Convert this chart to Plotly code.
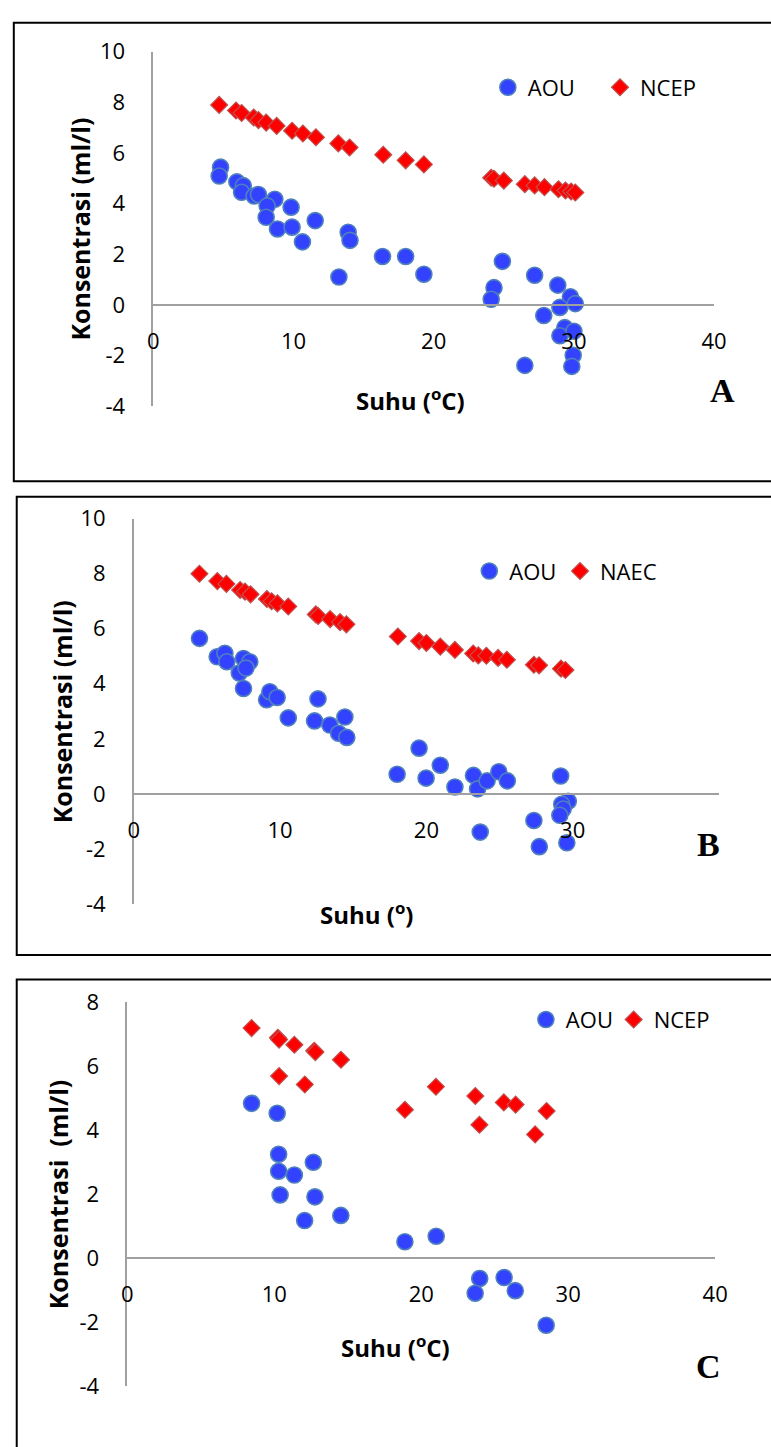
import plotly.graph_objects as go

# ---------------- data ----------------
# Panel A
a_aou_t = [4.8, 4.7, 5.96, 6.42, 6.3, 7.19, 7.5, 8.67, 8.12, 8.05, 8.86, 9.83, 9.9, 10.64, 11.55,
           13.9, 14.03, 13.24, 16.35, 18.0, 19.3, 24.9, 24.3, 24.1, 27.2, 28.85, 29.75, 30.1,
           29.0, 27.85, 29.35, 29.0, 30.0, 29.95, 29.85, 26.5]
a_aou_v = [5.44, 5.09, 4.86, 4.71, 4.45, 4.3, 4.36, 4.17, 3.91, 3.46, 3.0, 3.86, 3.07, 2.49, 3.33,
           2.87, 2.55, 1.1, 1.91, 1.91, 1.21, 1.72, 0.68, 0.22, 1.17, 0.78, 0.32, 0.05,
           -0.1, -0.42, -0.9, -1.22, -1.04, -1.99, -2.43, -2.39]
a_ncep_t = [4.7, 5.9, 6.3, 7.16, 7.5, 8.05, 8.8, 9.9, 10.67, 11.6, 13.2, 14.0, 16.4, 18.0, 19.3,
            24.1, 24.3, 25.0, 26.5, 27.2, 27.9, 28.9, 29.4, 29.8, 30.1]
a_ncep_v = [7.9, 7.68, 7.58, 7.4, 7.3, 7.2, 7.07, 6.88, 6.77, 6.62, 6.38, 6.22, 5.93, 5.71, 5.55,
            5.02, 4.98, 4.91, 4.77, 4.72, 4.65, 4.57, 4.52, 4.48, 4.44]

# Panel B
b_aou_t = [4.49, 5.7, 6.23, 6.36, 7.21, 7.5, 7.93, 7.67, 7.5, 9.08, 9.3, 9.8, 10.56, 12.36, 12.59,
           13.4, 14.0, 14.43, 14.56, 18.0, 19.5, 19.98, 20.95, 21.95, 23.22, 23.5, 24.15, 24.95,
           25.53, 29.18, 29.7, 29.25, 29.35, 29.12, 27.35, 23.68, 27.72, 29.6]
b_aou_v = [5.65, 4.98, 5.11, 4.8, 4.39, 4.92, 4.8, 4.57, 3.83, 3.42, 3.71, 3.5, 2.76, 2.65, 3.45,
           2.5, 2.2, 2.79, 2.05, 0.71, 1.66, 0.57, 1.04, 0.25, 0.67, 0.18, 0.47, 0.8,
           0.47, 0.65, -0.27, -0.38, -0.55, -0.78, -0.97, -1.39, -1.92, -1.78]
b_naec_t = [4.49, 5.71, 6.33, 7.27, 7.6, 7.98, 9.1, 9.42, 9.82, 10.56, 12.44, 12.6, 13.42, 14.1,
            14.53, 18.05, 19.5, 20.0, 20.95, 21.95, 23.2, 23.55, 24.1, 24.9, 25.5, 27.35, 27.7,
            29.2, 29.5]
b_naec_v = [8.0, 7.73, 7.63, 7.41, 7.35, 7.25, 7.08, 7.0, 6.92, 6.81, 6.52, 6.46, 6.35, 6.24,
            6.16, 5.72, 5.55, 5.48, 5.35, 5.23, 5.1, 5.03, 5.02, 4.94, 4.87, 4.69, 4.67,
            4.55, 4.5]

# Panel C
c_aou_t = [8.46, 10.2, 10.3, 10.3, 11.37, 12.66, 10.4, 12.77, 12.07, 14.53, 18.89, 21.02,
           23.98, 23.67, 25.64, 26.4, 28.5]
c_aou_v = [4.83, 4.52, 3.24, 2.71, 2.59, 2.99, 1.97, 1.91, 1.17, 1.33, 0.51, 0.68,
           -0.64, -1.1, -0.61, -1.02, -2.1]
c_ncep_t = [8.46, 10.25, 10.33, 11.37, 12.72, 12.8, 14.54, 10.33, 12.08, 18.89, 21.0, 23.68,
            23.96, 25.62, 26.42, 27.75, 28.53]
c_ncep_v = [7.18, 6.88, 6.82, 6.66, 6.47, 6.43, 6.19, 5.68, 5.42, 4.63, 5.35, 5.06,
            4.16, 4.86, 4.79, 3.86, 4.59]

x_ticks_ab = [0, 10, 20, 30, 40]
x_ticks_b = [0, 10, 20, 30]
y_ticks_ab = [-4, -2, 0, 2, 4, 6, 8, 10]
y_ticks_c = [-4, -2, 0, 2, 4, 6, 8]
y_labels_ab = ["-4", "-2", "0", "2", "4", "6", "8", "10"]
y_labels_c = ["-4", "-2", "0", "2", "4", "6", "8"]

# ---------------- layout helpers ----------------
W, H = 771, 1447
def px(x):
    return x / W
def py(y):
    return 1 - y / H

BLUE = "#3342ff"
BLUE_LINE = "#4f81bd"
RED = "#ff0000"
RED_LINE = "#c0504d"
AXIS_GRAY = "#a0a0a0"
FONT = "Open Sans"

fig = go.Figure()

def add_series(t, v, name, sym, xa, ya, leg):
    if sym == "circle":
        marker = dict(symbol="circle", size=16, color=BLUE, line=dict(color=BLUE_LINE, width=1.6))
    else:
        marker = dict(symbol="diamond", size=13, color=RED, line=dict(color=RED_LINE, width=1.2))
    fig.add_trace(go.Scatter(x=t, y=v, mode="markers", name=name, marker=marker,
                             xaxis=xa, yaxis=ya, legend=leg, cliponaxis=False))

add_series(a_aou_t, a_aou_v, "AOU", "circle", "x", "y", "legend")
add_series(a_ncep_t, a_ncep_v, "NCEP", "diamond", "x", "y", "legend2")
add_series(b_aou_t, b_aou_v, "AOU", "circle", "x2", "y2", "legend3")
add_series(b_naec_t, b_naec_v, "NAEC", "diamond", "x2", "y2", "legend4")
add_series(c_aou_t, c_aou_v, "AOU", "circle", "x3", "y3", "legend5")
add_series(c_ncep_t, c_ncep_v, "NCEP", "diamond", "x3", "y3", "legend6")

tickfont = dict(family=FONT, size=22, color="black")

# pixel geometry of each panel
panels = [
    dict(xl=151, xr=726, yt=36.5, yb=398.4, y0=295.0, yr=[-4, 10], xt=x_ticks_ab,
         yticks=y_ticks_ab, ylab=y_labels_ab),
    dict(xl=131, xr=731, yt=513.3, yb=906.7, y0=794.3, yr=[-4, 10], xt=x_ticks_b,
         yticks=y_ticks_ab, ylab=y_labels_ab),
    dict(xl=124.3, xr=727.1, yt=1006.7, yb=1399.1, y0=1268.3, yr=[-4, 8], xt=x_ticks_ab,
         yticks=y_ticks_c, ylab=y_labels_c),
]
layout_axes = {}
for i, p in enumerate(panels):
    sfx = "" if i == 0 else str(i + 1)
    layout_axes["xaxis" + sfx] = dict(
        domain=[px(p["xl"]), px(p["xr"])], range=[0, 40], anchor="free",
        position=py(p["y0"]), showline=True, linecolor=AXIS_GRAY, linewidth=1.5,
        showgrid=False, zeroline=False, tickvals=p["xt"], ticks="",
        tickfont=tickfont, ticklabelstandoff=17)
    layout_axes["yaxis" + sfx] = dict(
        domain=[py(p["yb"]), py(p["yt"])], range=p["yr"], anchor="x" + sfx,
        showline=True, linecolor=AXIS_GRAY, linewidth=1.5,
        showgrid=False, zeroline=False, tickvals=p["yticks"], ticktext=p["ylab"], ticks="",
        tickfont=tickfont, ticklabelstandoff=22)

legfont = dict(family=FONT, size=22, color="black")
def legend_cfg(marker_xpx, ypx):
    # legend symbol sits about 20px right of the legend's left edge
    return dict(x=px(marker_xpx - 22), y=py(ypx), xanchor="left", yanchor="middle",
                orientation="h", font=legfont, bgcolor="rgba(0,0,0,0)",
                itemsizing="trace", borderwidth=0)

legends = {
    "legend": legend_cfg(516, 73),
    "legend2": legend_cfg(631, 73),
    "legend3": legend_cfg(497, 567),
    "legend4": legend_cfg(590, 567),
    "legend5": legend_cfg(555, 1025),
    "legend6": legend_cfg(645, 1025),
}

fig.update_layout(
    width=W, height=H, margin=dict(l=0, r=0, t=0, b=0),
    paper_bgcolor="white", plot_bgcolor="white", showlegend=True,
    **legends, **layout_axes)

# frames around panels
for (l, t, b) in [(8, 7, 475), (11, 491, 959), (11, 984, 1470)]:
    fig.add_shape(type="rect", xref="paper", yref="paper", x0=px(l), x1=px(800),
                  y0=py(b), y1=py(t), line=dict(color="black", width=2), layer="below")

ann = []
titlefont = dict(family=FONT, size=25, color="black")
xtitlefont = dict(family=FONT, size=24, color="black")
for (txt, x, y) in [("<b>Konsentrasi (ml/l)</b>", 76, 218),
                    ("<b>Konsentrasi (ml/l)</b>", 57.5, 711),
                    ("<b>Konsentrasi  (ml/l)</b>", 53.5, 1203)]:
    ann.append(dict(text=txt, x=px(x), y=py(y), xref="paper", yref="paper", showarrow=False,
                    textangle=-90, font=titlefont, xanchor="center", yanchor="middle"))
for (txt, x, y) in [("<b>Suhu (<sup>o</sup>C)</b>", 415, 392),
                    ("<b>Suhu (<sup>o</sup>)</b>", 370, 917),
                    ("<b>Suhu (<sup>o</sup>C)</b>", 399, 1359)]:
    ann.append(dict(text=txt, x=px(x), y=py(y), xref="paper", yref="paper", showarrow=False,
                    font=xtitlefont, xanchor="center", yanchor="middle"))
for (txt, x, y) in [("<b>A</b>", 735, 382), ("<b>B</b>", 720, 846), ("<b>C</b>", 720, 1379)]:
    ann.append(dict(text=txt, x=px(x), y=py(y), xref="paper", yref="paper", showarrow=False,
                    font=dict(family="Liberation Serif", size=34, color="black"),
                    xanchor="center", yanchor="middle"))
fig.update_layout(annotations=ann)

fig.write_html("out.html")
